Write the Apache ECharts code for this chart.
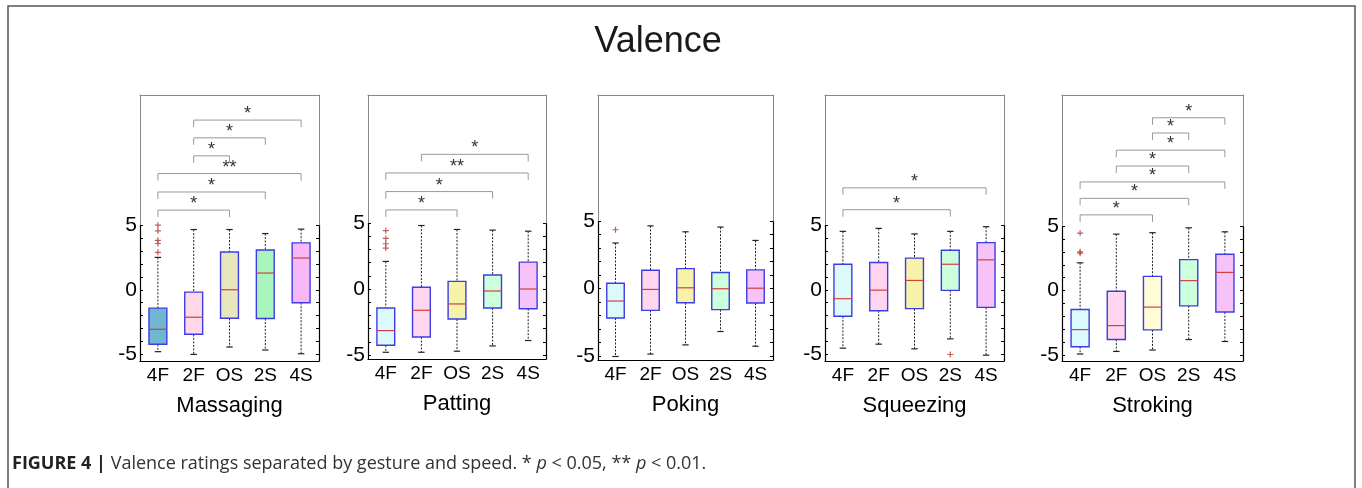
<!DOCTYPE html>
<html>
<head>
<meta charset="utf-8">
<script src="https://cdn.jsdelivr.net/npm/echarts@6/dist/echarts.min.js"></script>
<style>
html, body { margin: 0; padding: 0; background: #fff; }
#main { width: 1362px; height: 488px; }
</style>
</head>
<body>
<div id="main"></div>
<script>
var categories = ['4F', '2F', 'OS', '2S', '4S'];
var gestures = ['Massaging', 'Patting', 'Poking', 'Squeezing', 'Stroking'];
var yLabels = [-5, 0, 5];
var yTicks = [-5, -4, -3, -2, -1, 0, 1, 2, 3, 4, 5];

// each box: [low whisker, q1, median, q3, high whisker]
var massaging = [[-4.78, -4.21, -3.05, -1.42, 2.5], [-4.99, -3.44, -2.12, -0.18, 4.65], [-4.42, -2.2, 0.0, 2.92, 4.65], [-4.65, -2.22, 1.29, 3.07, 4.34], [-4.94, -1.0, 2.45, 3.62, 4.68]];
var patting = [[-4.79, -4.26, -3.15, -1.44, 2.09], [-4.79, -3.63, -1.61, 0.13, 4.81], [-4.71, -2.27, -1.13, 0.58, 4.51], [-4.31, -1.44, -0.15, 1.06, 4.46], [-3.9, -1.49, 0.0, 2.04, 4.38]];
var poking = [[-5.04, -2.19, -0.93, 0.39, 3.37], [-4.86, -1.62, -0.07, 1.35, 4.64], [-4.18, -1.06, 0.05, 1.47, 4.2], [-3.19, -1.57, -0.02, 1.18, 4.55], [-4.28, -1.08, 0.02, 1.38, 3.56]];
var squeezing = [[-4.51, -2.05, -0.69, 1.97, 4.51], [-4.2, -1.62, -0.03, 2.1, 4.74], [-4.56, -1.46, 0.72, 2.44, 4.31], [-3.79, -0.05, 1.97, 3.05, 4.51], [-5.05, -1.36, 2.31, 3.64, 4.87]];
var stroking = [[-4.91, -4.35, -3.02, -1.46, 2.15], [-4.71, -3.79, -2.71, -0.05, 4.37], [-4.6, -3.04, -1.28, 1.1, 4.48], [-3.79, -1.18, 0.77, 2.4, 4.86], [-3.94, -1.66, 1.41, 2.81, 4.55]];

// outliers: [category index, value]
var massagingOut = [[0, 4.99], [0, 4.55], [0, 3.82], [0, 3.57], [0, 2.89]];
var pattingOut = [[0, 4.43], [0, 3.83], [0, 3.43], [0, 3.1]];
var pokingOut = [[0, 4.35]];
var squeezingOut = [[3, -5.0]];
var strokingOut = [[0, 4.45], [0, 3.0], [0, 2.9]];

// significance brackets: [from, to, height, mark]
var massagingSig = [[1, 4, 13.1, '*'], [1, 3, 11.73, '*'], [1, 2, 10.34, '*'], [0, 4, 8.97, '**'], [0, 3, 7.55, '*'], [0, 2, 6.15, '*']];
var pattingSig = [[1, 4, 10.2, '*'], [0, 4, 8.79, '**'], [0, 3, 7.38, '*'], [0, 2, 5.99, '*']];
var pokingSig = [];
var squeezingSig = [[0, 4, 7.87, '*'], [0, 3, 6.18, '*']];
var strokingSig = [[2, 4, 13.38, '*'], [2, 3, 12.2, '*'], [1, 4, 10.87, '*'], [1, 3, 9.64, '*'], [0, 4, 8.41, '*'], [0, 3, 7.14, '*'], [0, 2, 5.86, '*']];

var boxes = [massaging, patting, poking, squeezing, stroking];
var outs = [massagingOut, pattingOut, pokingOut, squeezingOut, strokingOut];
var sigs = [massagingSig, pattingSig, pokingSig, squeezingSig, strokingSig];

var fillsFirst = ['#70b6d0', '#ffd8e8', '#e8e6bc', '#a8f6bc', '#f8b8f8'];
var fillsOther = ['#dcfafc', '#ffd6ee', '#f6f2a8', '#ccffdc', '#f6c2f8'];
var fills = [fillsFirst, fillsOther, fillsOther, fillsOther, ['#dcfafc', '#ffd6ee', '#fffbd6', '#ccffdc', '#f6c2f8']];

// plot frames in pixels
var frames = [
  { left: 140, right: 319, t5: 225, bottom: 361, yMin: -5.5 },
  { left: 368, right: 546, t5: 223, bottom: 359, yMin: -5.3 },
  { left: 598, right: 773, t5: 221, bottom: 360, yMin: -5.3 },
  { left: 825, right: 1004, t5: 225, bottom: 361, yMin: -5.5 },
  { left: 1062, right: 1243, t5: 226, bottom: 361, yMin: -5.45 }
];
var frameTop = 95;
var font = '"Liberation Sans", Arial, sans-serif';
var narrow = '"Liberation Sans Narrow", "Arial Narrow", sans-serif';
var captionFont = '"Open Sans", sans-serif';

function boxItem(colors) {
  return function (params, api) {
    var x = api.value(0);
    var lo = api.coord([x, api.value(1)]);
    var q1 = api.coord([x, api.value(2)]);
    var md = api.coord([x, api.value(3)]);
    var q3 = api.coord([x, api.value(4)]);
    var hi = api.coord([x, api.value(5)]);
    var band = api.size([1, 0])[0];
    var hw = band * 0.25, cw = band * 0.09;
    var cx = md[0];
    var dash = { stroke: '#222', lineWidth: 1, lineDash: [2, 1.5] };
    var cap = { stroke: '#222', lineWidth: 1.2 };
    return {
      type: 'group',
      children: [
        { type: 'line', shape: { x1: cx, y1: hi[1], x2: cx, y2: q3[1] }, style: dash },
        { type: 'line', shape: { x1: cx, y1: q1[1], x2: cx, y2: lo[1] }, style: dash },
        { type: 'line', shape: { x1: cx - cw, y1: hi[1], x2: cx + cw, y2: hi[1] }, style: cap },
        { type: 'line', shape: { x1: cx - cw, y1: lo[1], x2: cx + cw, y2: lo[1] }, style: cap },
        { type: 'rect', shape: { x: cx - hw, y: q3[1], width: 2 * hw, height: q1[1] - q3[1] },
          style: { fill: colors[params.dataIndex], stroke: '#3c3ce6', lineWidth: 1.4 } },
        { type: 'line', shape: { x1: cx - hw, y1: md[1], x2: cx + hw, y2: md[1] },
          style: { stroke: '#d04040', lineWidth: 1.2 } }
      ]
    };
  };
}

function sigItem(list) {
  return function (params, api) {
    var a = api.coord([api.value(0), api.value(2)]);
    var b = api.coord([api.value(1), api.value(2)]);
    var drop = 7;
    return {
      type: 'group',
      children: [
        { type: 'polyline', shape: { points: [[a[0], a[1] + drop], [a[0], a[1]], [b[0], b[1]], [b[0], b[1] + drop]] },
          style: { stroke: '#999', lineWidth: 1, fill: null } },
        { type: 'text', x: (a[0] + b[0]) / 2, y: a[1] + 3,
          style: { text: list[params.dataIndex][3], textAlign: 'center', textVerticalAlign: 'bottom',
            font: '18px ' + font, fill: '#333' } }
      ]
    };
  };
}

var grids = [], xAxes = [], yAxes = [], series = [];
frames.forEach(function (f, i) {
  var pxPerUnit = (f.bottom - f.t5) / (5 - f.yMin);
  var sigMax = 5 + (f.t5 - frameTop) / pxPerUnit;
  grids.push({ left: f.left, top: f.t5, width: f.right - f.left, height: f.bottom - f.t5 });
  grids.push({ left: f.left, top: frameTop, width: f.right - f.left, height: f.t5 - frameTop });
  var gd = 2 * i, gs = 2 * i + 1;

  xAxes.push({
    gridIndex: gd, type: 'category', data: categories, position: 'bottom',
    axisLine: { onZero: false, lineStyle: { color: '#000', width: 1.2 } },
    axisTick: { inside: true, alignWithLabel: true, length: 3, lineStyle: { color: '#000' } },
    axisLabel: { interval: 0, fontSize: 19, color: '#000', margin: 5, fontFamily: narrow },
    name: gestures[i], nameLocation: 'middle', nameGap: 34,
    nameTextStyle: { fontSize: 22, color: '#000', fontFamily: font }
  });
  xAxes.push({
    gridIndex: gs, type: 'category', data: categories, position: 'top',
    axisLine: { onZero: false, lineStyle: { color: '#888', width: 1 } },
    axisTick: { inside: true, alignWithLabel: true, length: 3, lineStyle: { color: '#666' } },
    axisLabel: { show: false }
  });
  [ 'left', 'right' ].forEach(function (pos) {
    yAxes.push({
      gridIndex: gd, type: 'value', min: f.yMin, max: 5, position: pos,
      axisLine: { show: true, onZero: false, lineStyle: { color: '#000', width: 1.2 } },
      axisTick: { show: true, inside: true, length: 3, customValues: yTicks, lineStyle: { color: '#000' } },
      axisLabel: { show: pos === 'left', customValues: yLabels, fontSize: 21, color: '#000', margin: 3, fontFamily: font },
      splitLine: { show: false }
    });
  });
  [ 'left', 'right' ].forEach(function (pos) {
    yAxes.push({
      gridIndex: gs, type: 'value', min: 5, max: sigMax, position: pos,
      axisLine: { show: true, onZero: false, lineStyle: { color: '#888', width: 1 } },
      axisTick: { show: false }, axisLabel: { show: false }, splitLine: { show: false }
    });
  });

  series.push({
    type: 'custom', xAxisIndex: 2 * i, yAxisIndex: 4 * i,
    renderItem: boxItem(fills[i]),
    encode: { x: 0, y: [1, 2, 3, 4, 5] },
    data: boxes[i].map(function (d, k) { return [k].concat(d); }),
    z: 2
  });
  series.push({
    type: 'scatter', xAxisIndex: 2 * i, yAxisIndex: 4 * i,
    symbol: 'path://M4,0H6V4H10V6H6V10H4V6H0V4H4Z', symbolSize: 6,
    itemStyle: { color: '#b43232' },
    data: outs[i], z: 3
  });
  series.push({
    type: 'custom', xAxisIndex: 2 * i + 1, yAxisIndex: 4 * i + 2,
    renderItem: sigItem(sigs[i]),
    encode: { x: [0, 1], y: 2 },
    data: sigs[i].map(function (d) { return [d[0], d[1], d[2]]; }),
    clip: false
  });
});

var chart = echarts.init(document.getElementById('main'));
chart.setOption({
  animation: false,
  title: {
    text: 'Valence', left: 653, top: 19, textAlign: 'center',
    textStyle: { fontSize: 36, fontWeight: 'normal', color: '#1a1a1a', fontFamily: font }
  },
  grid: grids,
  xAxis: xAxes,
  yAxis: yAxes,
  series: series,
  graphic: [
    { type: 'polyline', shape: { points: [[8, 488], [8, 6], [1355, 6], [1355, 488]] },
      style: { stroke: '#555', lineWidth: 1.5, fill: null } },
    { type: 'text', left: 12, top: 455,
      style: {
        text: '{b|FIGURE 4 |} Valence ratings separated by gesture and speed. * {i|p} < 0.05, ** {i|p} < 0.01.',
        font: '18px ' + captionFont, fill: '#333',
        rich: {
          b: { fontWeight: 'bold', fontSize: 18, fontFamily: captionFont, fill: '#222' },
          i: { fontStyle: 'italic', fontSize: 18, fontFamily: captionFont, fill: '#333' }
        }
      } }
  ]
});
</script>
</body>
</html>
